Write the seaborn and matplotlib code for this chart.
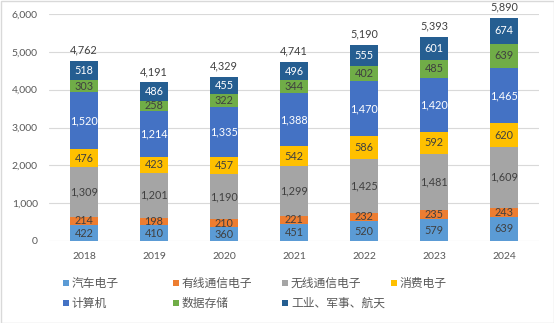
import numpy as np
import pandas as pd
import seaborn as sns
import matplotlib
matplotlib.use("Agg")
import matplotlib.pyplot as plt
from matplotlib.patches import Rectangle

years = ["2018", "2019", "2020", "2021", "2022", "2023", "2024"]
series_names = ["汽车电子", "有线通信电子", "无线通信电子", "消费电子",
                "计算机", "数据存储", "工业、军事、航天"]
auto = [422, 410, 360, 451, 520, 579, 639]
wired = [214, 198, 210, 221, 232, 235, 243]
wireless = [1309, 1201, 1190, 1299, 1425, 1481, 1609]
consumer = [476, 423, 457, 542, 586, 592, 620]
computer = [1520, 1214, 1335, 1388, 1470, 1420, 1465]
storage = [303, 258, 322, 344, 402, 485, 639]
industrial = [518, 486, 455, 496, 555, 601, 674]
totals = [4762, 4191, 4329, 4741, 5190, 5393, 5890]

colors = ["#5B9BD5", "#ED7D31", "#A5A5A5", "#FFC000",
          "#4472C4", "#70AD47", "#255E91"]
label_colors = ["#404040", "#404040", "#404040", "#404040",
                "#FFFFFF", "#404040", "#FFFFFF"]

sns.set_theme(style="white")
plt.rcParams["font.family"] = ["Lato", "Noto Sans CJK SC", "DejaVu Sans"]

series = [auto, wired, wireless, consumer, computer, storage, industrial]
df = pd.DataFrame({"year": years})
cum = np.zeros(len(years))
cum_cols = []
for name, vals in zip(series_names, series):
    cum = cum + np.array(vals)
    df[name + "_cum"] = cum
    cum_cols.append(name + "_cum")

W, H = 554, 323
fig = plt.figure(figsize=(W / 100, H / 100), dpi=100)
ax = fig.add_axes([49 / W, (H - 241) / H, (539 - 49) / W, (241 - 14) / H])

# draw stacked bars: tallest cumulative first, shorter ones on top
for i in reversed(range(len(series))):
    sns.barplot(data=df, x="year", y=cum_cols[i], color=colors[i],
                width=0.4, saturation=1, ax=ax, linewidth=0, zorder=3)

# segment labels
base = np.zeros(len(years))
for i, vals in enumerate(series):
    for j, v in enumerate(vals):
        ax.text(j, base[j] + v / 2, f"{v:,}", ha="center", va="center",
                fontsize=7.8, color=label_colors[i], zorder=5)
    base = base + np.array(vals)

# total labels
for j, t in enumerate(totals):
    ax.annotate(f"{t:,}", (j, base[j]), xytext=(0, 4), textcoords="offset points",
                ha="center", va="bottom", fontsize=7.8, color="#404040", zorder=5)

ax.set_xlim(-0.5, len(years) - 0.5)
ax.set_ylim(0, 6000)
ax.set_yticks(range(0, 6001, 1000))
ax.set_yticklabels([f"{v:,}" for v in range(0, 6001, 1000)])
ax.set_xlabel("")
ax.set_ylabel("")
ax.yaxis.grid(True, color="#D9D9D9", linewidth=0.8, zorder=0)
ax.set_axisbelow(True)
for s in ax.spines.values():
    s.set_visible(False)
ax.tick_params(axis="both", length=0, labelsize=7.5, labelcolor="#595959")
ax.tick_params(axis="y", pad=8)
ax.tick_params(axis="x", pad=8)

# legend (two rows, four columns, like the reference)
marker_x = [63, 173, 282, 391]
row_y = [283, 303]
for k, name in enumerate(series_names):
    r, c = divmod(k, 4)
    x = marker_x[c]
    y = row_y[r]
    fig.patches.append(Rectangle((x / W, (H - y - 3) / H), 6 / W, 6 / H,
                                 transform=fig.transFigure, facecolor=colors[k],
                                 edgecolor="none"))
    fig.text((x + 9) / W, (H - y) / H, name, ha="left", va="center",
             fontsize=8.5, color="#595959")

# outer border
fig.patches.append(Rectangle((0.5 / W, 0.5 / H), (W - 1) / W, (H - 1) / H,
                             transform=fig.transFigure, facecolor="none",
                             edgecolor="#D9D9D9", linewidth=1))

fig.savefig("out.png", dpi=100)
